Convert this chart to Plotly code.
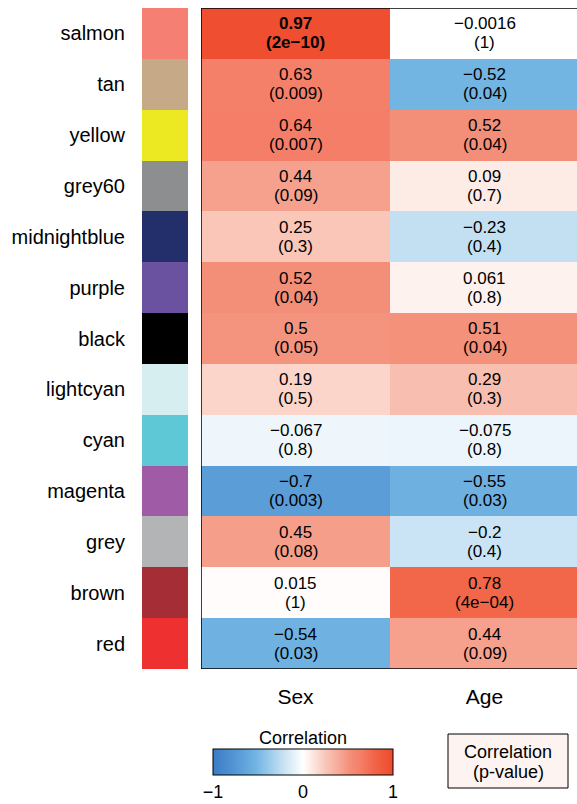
import plotly.graph_objects as go

# ---------------- data ----------------
modules = ["salmon", "tan", "yellow", "grey60", "midnightblue", "purple", "black",
           "lightcyan", "cyan", "magenta", "grey", "brown", "red"]
module_colors = ["#f47f72", "#c6a987", "#ece822", "#8d8e90", "#232f6a", "#6b52a0", "#000000",
                 "#d7eef1", "#5ec8d6", "#a05ba6", "#b2b4b6", "#a52d35", "#ef3030"]
traits = ["Sex", "Age"]
sex_r = [0.97, 0.63, 0.64, 0.44, 0.25, 0.52, 0.5, 0.19, -0.067, -0.7, 0.45, 0.015, -0.54]
sex_p = ["2e−10", "0.009", "0.007", "0.09", "0.3", "0.04", "0.05", "0.5", "0.8", "0.003", "0.08", "1", "0.03"]
age_r = [-0.0016, -0.52, 0.52, 0.09, -0.23, 0.061, 0.51, 0.29, -0.075, -0.55, -0.2, 0.78, 0.44]
age_p = ["1", "0.04", "0.04", "0.7", "0.4", "0.8", "0.04", "0.3", "0.8", "0.03", "0.4", "4e−04", "0.09"]
colorbar_title = "Correlation"
legend_lines = ["Correlation", "(p-value)"]

colorscale = [
    [0.0, "#3a7cc6"], [0.15, "#5a9dd7"], [0.24, "#72b4e2"], [0.385, "#c3e0f3"],
    [0.5, "#ffffff"], [0.595, "#fbd5ca"], [0.625, "#f9c6b8"], [0.72, "#f5a18e"],
    [0.76, "#f38f78"], [0.815, "#f4806a"], [0.89, "#f2664a"], [1.0, "#ee4a2c"],
]

W, H = 577, 804
FONT = "Liberation Sans, Arial, Helvetica, sans-serif"

def px_x(v):
    return v / W

def px_y(v):
    return 1 - v / H

n = len(modules)
rows = list(range(n))
z = [[sex_r[i], age_r[i]] for i in rows]

fig = go.Figure()

fig.add_trace(go.Heatmap(
    z=z, x=[0, 1], y=rows, zmin=-1, zmax=1, colorscale=colorscale,
    xaxis="x", yaxis="y", hoverinfo="skip",
    colorbar=dict(
        orientation="h", thickness=26, thicknessmode="pixels",
        len=180, lenmode="pixels", x=px_x(303), xanchor="center",
        y=px_y(749), yanchor="top", ypad=0, xpad=0,
        outlinecolor="#000000", outlinewidth=1,
        tickvals=[-1, 0, 1], ticktext=["−1", "0", "1"], ticks="",
        tickfont=dict(size=18, color="#000", family=FONT),
    ),
))

fig.add_trace(go.Bar(
    x=[1] * n, y=rows, orientation="h", marker=dict(color=module_colors, line=dict(width=0)),
    width=1, xaxis="x2", yaxis="y2", hoverinfo="skip", showlegend=False,
))

# cell texts
for i in rows:
    for j, (r, p) in enumerate([(sex_r[i], sex_p[i]), (age_r[i], age_p[i])]):
        rs = f"{r:g}".replace("-", "−")
        bold = (i == 0 and j == 0)
        t1 = f"<b>{rs}</b>" if bold else rs
        t2 = f"<b>({p})</b>" if bold else f"({p})"
        for txt, ys in ((t1, 9.5), (t2, -9.5)):
            fig.add_annotation(x=j, y=i, xref="x", yref="y", text=txt, showarrow=False,
                               yshift=ys, font=dict(size=17, color="#000", family=FONT))

# heatmap border
fig.add_shape(type="rect", xref="x", yref="y", x0=-0.5, x1=1.5, y0=-0.5, y1=n - 0.5,
              line=dict(color="#000", width=1.5), layer="above")

# colorbar title
fig.add_annotation(xref="paper", yref="paper", x=px_x(303), y=px_y(738), text=colorbar_title,
                   xanchor="center", yanchor="middle", showarrow=False,
                   font=dict(size=18, color="#000", family=FONT))

# legend box
fig.add_shape(type="rect", xref="paper", yref="paper", x0=px_x(448), x1=px_x(568),
              y0=px_y(788), y1=px_y(734), line=dict(color="#000", width=1), fillcolor="#fdf3f0")
for txt, yy in zip(legend_lines, (752, 772)):
    fig.add_annotation(xref="paper", yref="paper", x=px_x(508), y=px_y(yy), text=txt,
                       xanchor="center", yanchor="middle", showarrow=False,
                       font=dict(size=18, color="#000", family=FONT))

cell_w = 189
ydom = [px_y(669), px_y(8)]

fig.update_layout(
    width=W, height=H, margin=dict(l=0, r=0, t=0, b=0, autoexpand=False),
    paper_bgcolor="white", plot_bgcolor="white", showlegend=False, bargap=0,
    font=dict(family=FONT, color="#000"),
    xaxis=dict(domain=[px_x(201), 1], range=[-0.5, -0.5 + (W - 201) / cell_w],
               tickvals=[0, 1], ticktext=traits, ticks="", showgrid=False, zeroline=False,
               showline=False, tickfont=dict(size=21, color="#000"), ticklabelstandoff=13),
    yaxis=dict(domain=ydom, range=[n - 0.5, -0.5], showticklabels=False, showgrid=False,
               zeroline=False, showline=False),
    xaxis2=dict(domain=[px_x(142), px_x(188)], range=[0, 1], visible=False, anchor="y2"),
    yaxis2=dict(domain=ydom, range=[n - 0.5, -0.5], tickvals=rows, ticktext=modules, ticks="",
                showgrid=False, zeroline=False, showline=False, anchor="x2",
                tickfont=dict(size=20, color="#000"), ticklabelstandoff=16),
)

fig.write_html("out.html")
